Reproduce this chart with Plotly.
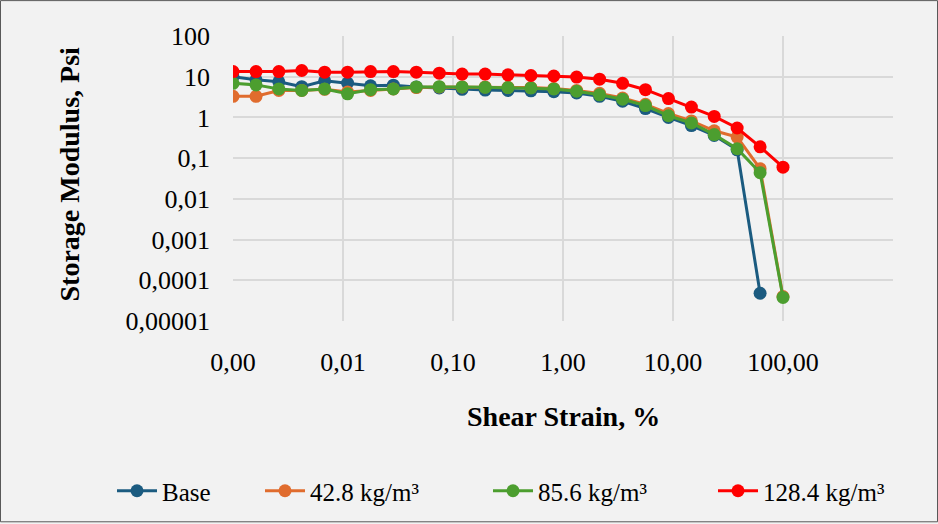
import plotly.graph_objects as go

strain = [0.001, 0.00162, 0.00261, 0.00422, 0.00681, 0.011, 0.0178, 0.0287, 0.0464,
          0.075, 0.121, 0.196, 0.316, 0.511, 0.825, 1.33, 2.15, 3.48, 5.62, 9.09,
          14.7, 23.7, 38.3, 61.9, 100]

base = [10, 8.4, 7.5, 5.7, 7.9, 7.0, 6.0, 6.2, 5.6, 5.3, 4.9, 4.7, 4.6, 4.5, 4.3,
        4.0, 3.3, 2.5, 1.65, 1.0, 0.63, 0.36, 0.16, 4.8e-5]
s428 = [3.3, 3.3, 4.6, 4.6, 4.9, 4.2, 4.6, 5.0, 5.4, 5.6, 5.6, 5.6, 5.5, 5.4, 5.1,
        4.6, 3.9, 3.0, 2.1, 1.25, 0.82, 0.47, 0.33, 0.055, 4.0e-5]
s856 = [6.9, 6.3, 5.0, 4.6, 5.0, 3.8, 4.8, 5.0, 5.6, 5.7, 5.6, 5.5, 5.4, 5.3, 5.0,
        4.4, 3.6, 2.8, 1.95, 1.1, 0.73, 0.38, 0.17, 0.044, 3.8e-5]
s1284 = [13.4, 13.4, 13.4, 14.2, 12.9, 12.9, 13.4, 13.4, 12.9, 12.2, 11.6, 11.6, 11.1,
         10.7, 10.4, 9.8, 8.7, 6.9, 4.8, 2.9, 1.8, 1.06, 0.55, 0.19, 0.06]

series_names = ["Base", "42.8 kg/m³", "85.6 kg/m³", "128.4 kg/m³"]
series_values = [base, s428, s856, s1284]
series_colors = ["#1B5B80", "#E06C2E", "#4C9E2F", "#FF0000"]

x_tickvals = [0.001, 0.01, 0.1, 1, 10, 100]
x_ticktext = ["0,00", "0,01", "0,10", "1,00", "10,00", "100,00"]
y_tickvals = [100, 10, 1, 0.1, 0.01, 0.001, 0.0001, 0.00001]
y_ticktext = ["100", "10", "1", "0,1", "0,01", "0,001", "0,0001", "0,00001"]

FONT = "Liberation Serif, Times New Roman, serif"

W, H = 938, 524
L, R, T, B = 233, 45, 36, 202
pw, ph = W - L - R, H - T - B

legend_ids = ["legend", "legend2", "legend3", "legend4"]
legend_text_px = [162, 310, 538, 763]

fig = go.Figure()
for name, vals, col, lid in zip(series_names, series_values, series_colors, legend_ids):
    fig.add_trace(go.Scatter(
        x=strain[:len(vals)], y=vals, name=name, mode="lines+markers",
        line=dict(color=col, width=3),
        marker=dict(color=col, size=13),
        legend=lid,
    ))

legend_y = -(491 - (H - B)) / ph
legends = {}
for lid, px in zip(legend_ids, legend_text_px):
    legends[lid] = dict(orientation="h", x=(px - 50 - L) / pw, xanchor="left",
                        y=legend_y, yanchor="middle", font=dict(size=25),
                        bgcolor="rgba(0,0,0,0)", itemwidth=40)

fig.update_layout(
    width=W, height=H,
    margin=dict(l=L, r=R, t=T, b=B),
    paper_bgcolor="#F2F2F2", plot_bgcolor="#F2F2F2",
    font=dict(family=FONT, size=26, color="#000000"),
    showlegend=True,
    xaxis=dict(type="log", range=[-3, 3], tickvals=x_tickvals, ticktext=x_ticktext,
               showgrid=True, gridcolor="#D9D9D9", gridwidth=1.5, zeroline=False,
               showline=False, ticks="", ticklabelstandoff=23,
               tickfont=dict(size=26)),
    yaxis=dict(type="log", range=[-5, 2], tickvals=y_tickvals, ticktext=y_ticktext,
               showgrid=True, gridcolor="#D9D9D9", gridwidth=1.5, zeroline=False,
               showline=False, ticks="", ticklabelstandoff=22,
               tickfont=dict(size=26)),
    annotations=[
        dict(text="<b>Shear Strain, %</b>", xref="paper", yref="paper",
             x=0.5, y=-(418 - (H - B)) / ph, xanchor="center", yanchor="middle",
             showarrow=False, font=dict(size=28)),
        dict(text="<b>Storage Modulus, Psi</b>", xref="paper", yref="paper",
             x=(70 - L) / pw, y=(H - B - 175) / ph, xanchor="center", yanchor="middle",
             textangle=-90, showarrow=False, font=dict(size=28)),
    ],
    shapes=[
        dict(type="rect", xref="paper", yref="paper",
             x0=(0.5 - L) / pw, x1=(W - 0.5 - L) / pw,
             y0=-(H - 0.5 - (H - B)) / ph, y1=1 + (T - 0.5) / ph,
             line=dict(color="#595959", width=1), layer="below"),
    ],
    **legends,
)

fig.write_html("out.html", config={"displayModeBar": False},
               post_script="document.body.style.margin='0';")
